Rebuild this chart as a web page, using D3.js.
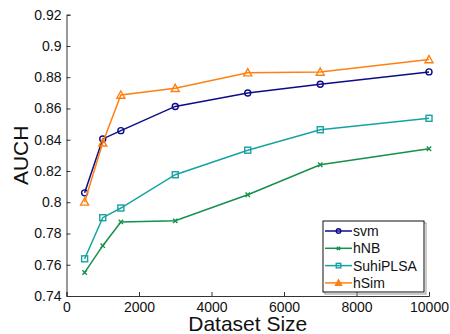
<!DOCTYPE html>
<html>
<head>
<meta charset="utf-8">
<script src="https://cdn.jsdelivr.net/npm/d3@7"></script>
<style>
  html, body { margin: 0; padding: 0; background: #fff; }
  svg { display: block; font-family: "Liberation Sans", Arial, Helvetica, sans-serif; }
</style>
</head>
<body>
<svg id="chart" width="450" height="334"></svg>
<script>
// Dataset sizes on the x axis
const sizes = [500, 1000, 1500, 3000, 5000, 7000, 10000];

// AUCH per method
const svm      = [0.806, 0.8405, 0.8458, 0.8613, 0.8699, 0.8755, 0.8834];
const hNB      = [0.7550, 0.7722, 0.7874, 0.7881, 0.8048, 0.8240, 0.8342];
const suhiPLSA = [0.7638, 0.7901, 0.7963, 0.8176, 0.8333, 0.8464, 0.8537];
const hSim     = [0.8002, 0.8380, 0.8686, 0.8729, 0.8829, 0.8833, 0.8913];

const seriesNames  = ["svm", "hNB", "SuhiPLSA", "hSim"];
const seriesValues = [svm, hNB, suhiPLSA, hSim];
const seriesColors = ["#0c0c8a", "#15904a", "#17a2a2", "#ff8012"];
const seriesMarkers = ["circle", "x", "square", "triangle"];

const xTicks = [0, 2000, 4000, 6000, 8000, 10000];
const yTicks = [0.74, 0.76, 0.78, 0.8, 0.82, 0.84, 0.86, 0.88, 0.9, 0.92];

const svg = d3.select("#chart");
const x = d3.scaleLinear().domain([0, 10000]).range([66.5, 429]);
const y = d3.scaleLinear().domain([0.74, 0.92]).range([296, 14.7]);

// Axes (ticks drawn inward)
const axisColor = "#333";
const gx = svg.append("g").attr("transform", `translate(0,${y.range()[0]})`)
  .call(d3.axisBottom(x).tickValues(xTicks).tickSize(-4).tickFormat(d3.format("d")));
const gy = svg.append("g").attr("transform", `translate(${x.range()[0]},0)`)
  .call(d3.axisLeft(y).tickValues(yTicks).tickSize(-4).tickPadding(5).tickFormat(d => String(+d.toFixed(2))));
[gx, gy].forEach(g => {
  g.select(".domain").attr("stroke", axisColor).attr("stroke-width", 1);
  g.selectAll(".tick line").attr("stroke", axisColor);
  g.selectAll(".tick text").attr("fill", "#111").attr("font-size", 14)
    .attr("font-family", "'Liberation Sans', Arial, sans-serif");
});
gx.selectAll(".tick text").attr("dy", null).attr("y", 15.5);

// Axis titles
svg.append("text").attr("x", (x.range()[0] + x.range()[1]) / 2).attr("y", 330.5)
  .attr("text-anchor", "middle").attr("font-size", 21).attr("fill", "#111").text("Dataset Size");
svg.append("text").attr("transform", `translate(28,${(y.range()[0] + y.range()[1]) / 2}) rotate(-90)`)
  .attr("text-anchor", "middle").attr("font-size", 21).attr("fill", "#111").text("AUCH");

// Marker drawing helper
function drawMarker(g, type, cx, cy, color, k = 1) {
  if (type === "circle") {
    g.append("circle").attr("cx", cx).attr("cy", cy).attr("r", 3 * k)
      .attr("fill", "none").attr("stroke", color).attr("stroke-width", 1.4);
  } else if (type === "square") {
    g.append("rect").attr("x", cx - 3 * k).attr("y", cy - 3 * k).attr("width", 6 * k).attr("height", 6 * k)
      .attr("fill", "none").attr("stroke", color).attr("stroke-width", 1.4);
  } else if (type === "triangle") {
    const s = 4 * k;
    g.append("path").attr("d", `M${cx},${cy - s}L${cx + s},${cy + s * 0.8}L${cx - s},${cy + s * 0.8}Z`)
      .attr("fill", k < 1 ? color : "none").attr("stroke", color).attr("stroke-width", 1.4);
  } else {
    const s = 2.2 * k;
    g.append("path").attr("d", `M${cx - s},${cy - s}L${cx + s},${cy + s}M${cx - s},${cy + s}L${cx + s},${cy - s}`)
      .attr("stroke", color).attr("stroke-width", 1.4);
  }
}

// Series lines with markers
const line = d3.line().x(d => x(d[0])).y(d => y(d[1]));
seriesValues.forEach((vals, i) => {
  const pts = sizes.map((s, j) => [s, vals[j]]);
  const g = svg.append("g");
  g.append("path").datum(pts).attr("d", line).attr("fill", "none")
    .attr("stroke", seriesColors[i]).attr("stroke-width", 1.5);
  pts.forEach(p => drawMarker(g, seriesMarkers[i], x(p[0]), y(p[1]), seriesColors[i]));
});

// Legend
const lg = svg.append("g");
const lx = 323, ly = 221, lw = 101, lh = 71;
lg.append("rect").attr("x", lx + 2).attr("y", ly + 2).attr("width", lw).attr("height", lh)
  .attr("fill", "none").attr("stroke", "#999").attr("stroke-width", 1);
lg.append("rect").attr("x", lx).attr("y", ly).attr("width", lw).attr("height", lh)
  .attr("fill", "#fff").attr("stroke", "#111").attr("stroke-width", 1);
seriesNames.forEach((name, i) => {
  const yy = ly + 10 + i * 17.3;
  lg.append("line").attr("x1", lx + 2).attr("x2", lx + 29).attr("y1", yy).attr("y2", yy)
    .attr("stroke", seriesColors[i]).attr("stroke-width", 1.5);
  drawMarker(lg, seriesMarkers[i], lx + 15.5, yy, seriesColors[i], 0.75);
  lg.append("text").attr("x", lx + 30).attr("y", yy).attr("dy", "0.36em")
    .attr("font-size", 14).attr("fill", "#111").text(name);
});
</script>
</body>
</html>
